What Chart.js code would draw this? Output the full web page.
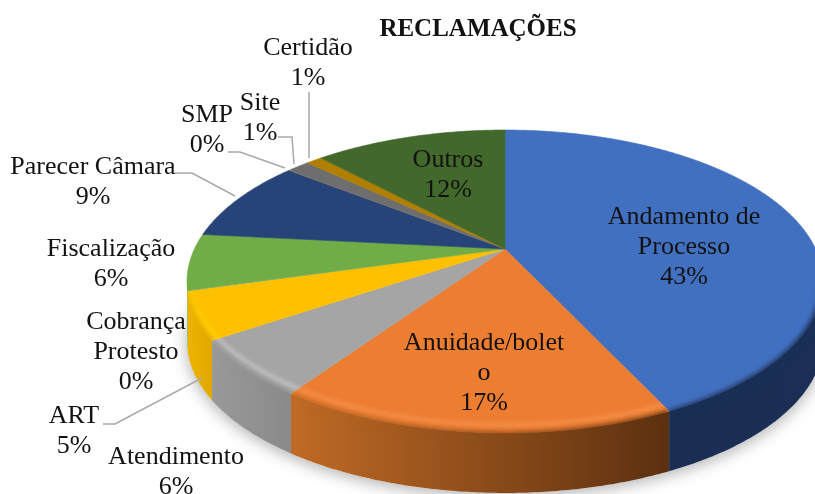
<!DOCTYPE html>
<html>
<head>
<meta charset="utf-8">
<title>Reclamações</title>
<script src="https://cdn.jsdelivr.net/npm/chart.js@4/dist/chart.umd.min.js"></script>
<style>
  html, body { margin: 0; padding: 0; background: #fff; }
  canvas { display: block; }
</style>
</head>
<body>
<canvas id="chart" width="815" height="494"></canvas>
<script>
// values
const categories = ['Andamento de Processo', 'Anuidade/boleto', 'Atendimento', 'ART', 'Cobrança Protesto',
  'Fiscalização', 'Parecer Câmara', 'SMP', 'Site', 'Certidão', 'Outros']
const shares = [43, 16.6, 6, 5, 0.04, 6, 8.9, 0.04, 1.4, 1, 12.02]
const labelLines = [['Andamento de', 'Processo'], ['Anuidade/bolet', 'o'], ['Atendimento'], ['ART'], ['Cobrança', 'Protesto'],
  ['Fiscalização'], ['Parecer Câmara'], ['SMP'], ['Site'], ['Certidão'], ['Outros']]
const chartTitle = 'RECLAMAÇÕES'

// styles
const topColors = ['#4270c0', '#ed7d31', '#a5a5a5', '#ffc000', '#5b9bd5', '#70ad47', '#264478', '#9e480e', '#6e6e6e', '#b07f00', '#43682b']
const wallColors = [['#1a2e54', '#1b2f56'], ['#c06a25', '#5c3010'], ['#999999', '#8a8a8a'], ['#edb400', '#e0a800']]
const rimLights = ['', 'rgba(248,150,85,0.85)', 'rgba(205,205,205,0.85)', 'rgba(255,220,0,0.85)']
const labelAnchors = [[684, 217], [484, 343], [176, 457], [74, 416], [136, 322], [111, 249], [93, 167], [207, 115], [260, 103], [308, 48], [448, 160]]
const leaderLines = [
  [[175, 173], [192, 173], [235, 196]],
  [[228, 152], [240, 152], [285, 168]],
  [[278, 137], [292, 137], [294, 164]],
  [[309, 92], [309, 158]],
  [[103, 424], [115, 424], [202, 378]]
]
const lineStep = 30

// projection of the round pie on the tilted plane
const view = { x: 505, y: 249, a: 310.6, b: 144.5, p: 0.2145, depth: 60 }
const project = (angle, r) => {
  const w = 1 - view.p * r * Math.sin(angle)
  return [view.x + view.a * r * Math.cos(angle) / w, view.y + view.b * r * Math.sin(angle) / w]
}
const sweep = (a0, a1, r) => {
  const n = Math.max(2, Math.ceil(Math.abs(a1 - a0) / 0.01))
  const pts = []
  for (let i = 0; i <= n; i++) pts.push(project(a0 + (a1 - a0) * i / n, r))
  return pts
}
const tracePoints = (ctx, pts) => pts.forEach(([x, y]) => ctx.lineTo(x, y))

const pie3d = {
  id: 'pie3d',
  beforeDatasetsDraw(chart) {
    const ctx = chart.ctx
    const arcs = chart.getDatasetMeta(0).data
    const frontStart = Math.asin(view.p)
    const frontEnd = Math.PI - frontStart

    // soft shadow under the disc
    ctx.save()
    ctx.shadowColor = 'rgba(0,0,0,0.32)'
    ctx.shadowBlur = 16
    ctx.shadowOffsetY = 3
    ctx.fillStyle = '#fff'
    ctx.beginPath()
    sweep(0, Math.PI * 2, 1).forEach(([x, y]) => ctx.lineTo(x, y + view.depth))
    ctx.fill()
    ctx.restore()

    const front = arcs.map(arc => [Math.max(arc.startAngle, frontStart), Math.min(arc.endAngle, frontEnd)])
    const wallFill = (i, upper) => {
      const xs = upper.map(p => p[0])
      const g = ctx.createLinearGradient(Math.max(...xs), 0, Math.min(...xs), 0)
      const c = wallColors[i] || [topColors[i], topColors[i]]
      g.addColorStop(0, c[1])
      g.addColorStop(1, c[0])
      return g
    }

    // walls
    arcs.forEach((arc, i) => {
      const [a0, a1] = front[i]
      if (a1 <= a0) return
      const upper = sweep(a0, a1, 1)
      ctx.fillStyle = wallFill(i, upper)
      ctx.beginPath()
      tracePoints(ctx, upper)
      tracePoints(ctx, upper.slice().reverse().map(([x, y]) => [x, y + view.depth]))
      ctx.closePath()
      ctx.fill()
    })

    // top faces
    arcs.forEach((arc, i) => {
      ctx.fillStyle = topColors[i]
      ctx.strokeStyle = topColors[i]
      ctx.lineWidth = 0.6
      ctx.beginPath()
      ctx.moveTo(view.x, view.y)
      tracePoints(ctx, sweep(arc.startAngle, arc.endAngle, 1))
      ctx.closePath()
      ctx.fill()
      if (shares[i] > 0.1) ctx.stroke()
    })

    // bevel along the front rim, kept inside its own slice and wall
    arcs.forEach((arc, i) => {
      const [a0, a1] = front[i]
      if (a1 <= a0) return
      const upper = sweep(a0, a1, 1)
      ctx.save()
      ctx.beginPath()
      ctx.moveTo(view.x, view.y)
      ctx.lineTo(upper[0][0], upper[0][1])
      tracePoints(ctx, upper.map(([x, y]) => [x, y + view.depth]))
      ctx.lineTo(upper[upper.length - 1][0], upper[upper.length - 1][1])
      ctx.closePath()
      ctx.clip()
      if (rimLights[i]) {
        ctx.filter = 'blur(2px)'
        ctx.strokeStyle = rimLights[i]
        ctx.lineWidth = 3.5
        ctx.beginPath()
        tracePoints(ctx, sweep(a0 - 0.06, a1 + 0.06, 1).map(([x, y]) => [x, y - 8]))
        ctx.stroke()
      }
      ctx.filter = 'blur(2.5px)'
      ctx.strokeStyle = wallFill(i, upper)
      ctx.lineWidth = 6
      ctx.beginPath()
      tracePoints(ctx, upper.map(([x, y]) => [x, y + 2]))
      ctx.stroke()
      ctx.restore()
    })
    return false // the disc above replaces the flat arcs
  },
  afterDraw(chart) {
    const ctx = chart.ctx
    const total = shares.reduce((a, b) => a + b, 0)
    ctx.save()

    ctx.strokeStyle = '#a9a9a9'
    ctx.lineWidth = 1.5
    leaderLines.forEach(line => {
      ctx.beginPath()
      tracePoints(ctx, line)
      ctx.stroke()
    })

    ctx.fillStyle = '#121212'
    ctx.textAlign = 'center'
    ctx.textBaseline = 'middle'
    ctx.font = 'bold 25px "Liberation Serif"'
    ctx.fillText(chartTitle, 478, 30)

    ctx.font = '26px "Liberation Serif"'
    labelLines.forEach((lines, i) => {
      const [x, y] = labelAnchors[i]
      const pct = Math.round(shares[i] / total * 100) + '%'
      lines.concat(pct).forEach((text, k) => ctx.fillText(text, x, y + k * lineStep))
    })
    ctx.restore()
  }
}

new Chart(document.getElementById('chart').getContext('2d'), {
  type: 'pie',
  data: {
    labels: categories,
    datasets: [{ data: shares, backgroundColor: topColors, borderWidth: 0 }]
  },
  options: {
    responsive: false,
    animation: false,
    plugins: {
      legend: { display: false },
      tooltip: { enabled: false }
    }
  },
  plugins: [pie3d]
})
</script>
</body>
</html>
